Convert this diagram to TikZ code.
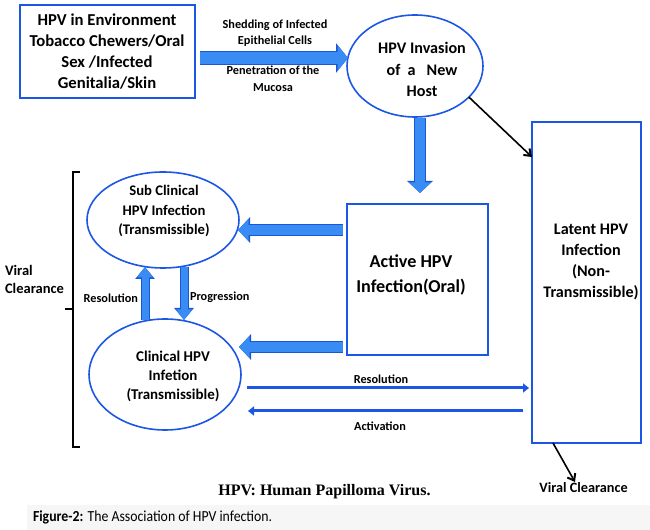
\documentclass[tikz,border=0pt]{standalone}
\usepackage{fontspec}
\usepackage{graphicx}
\setmainfont{Carlito}
\newfontfamily\capserif{Liberation Serif}
\usetikzlibrary{arrows.meta,shapes.geometric,calc}
\definecolor{bord}{RGB}{28,86,228}
\definecolor{arrfill}{RGB}{56,140,244}
\definecolor{arrdark}{RGB}{26,86,214}
\definecolor{capbg}{RGB}{246,246,246}
\begin{document}
\begin{tikzpicture}[x=0.75pt,y=-0.75pt,
  every node/.style={inner sep=0pt, outer sep=0pt},
  boxshape/.style={draw=bord, line width=1.6pt, rectangle},
  ellshape/.style={draw=bord, line width=1.2pt, ellipse},
  txt/.style={align=center, font=\bfseries},
  blk/.style={draw=arrfill, line width=#1*0.75pt,
     preaction={draw=arrdark, line width=(#1+2)*0.75pt,
       -{Triangle[width=(2*#1+5)*0.75pt,length=12*0.75pt]}},
     -{Triangle[width=(2*#1+1.5)*0.75pt,length=10.5*0.75pt]}},
  thinarr/.style={draw=bord, line width=3*0.75pt, -{Triangle[width=9*0.75pt,length=6*0.75pt]}},
  blackarr/.style={draw=black, line width=1.6*0.75pt, -{Straight Barb[width=9*0.75pt,length=6*0.75pt,line width=1.5pt]}},
  lbl/.style={font=\bfseries\fontsize{9.2pt}{12.5pt}\selectfont, align=center}
]
\useasboundingbox (0,0) rectangle (650,530);
\fill[capbg] (27,505) rectangle (650,530);

% shapes
\node (env) [boxshape, minimum width=175*0.75pt, minimum height=93*0.75pt] at (107.5,51.5) {};
\node (envt) [txt, font=\bfseries\fontsize{12.5pt}{15.6pt}\selectfont] at (107,51.5)
  {HPV in Environment\\Tobacco Chewers/Oral\\Sex /Infected\\Genitalia/Skin};

\node (inv) [ellshape, minimum width=136*0.75pt, minimum height=102*0.75pt] at (415,66) {};
\node (invt) [txt, font=\bfseries\fontsize{12.1pt}{16pt}\selectfont] at (422,69.5)
  {HPV Invasion\\of~~a~~~New\\Host};

\node (act) [boxshape, minimum width=141*0.75pt, minimum height=151*0.75pt] at (417.5,279.5) {};
\node (actt) [txt, font=\bfseries\fontsize{13.6pt}{18.8pt}\selectfont] at (411,275)
  {Active HPV\\Infection(Oral)};

\node (lat) [boxshape, minimum width=109*0.75pt, minimum height=321*0.75pt] at (586.5,282.5) {};
\node (latt) [txt, font=\bfseries\fontsize{12.1pt}{15.8pt}\selectfont] at (591,262)
  {Latent HPV\\Infection\\(Non-\\Transmissible)};

\node (sub) [ellshape, minimum width=152*0.75pt, minimum height=96*0.75pt] at (163,220) {};
\node (subt) [txt, font=\bfseries\fontsize{11pt}{14.3pt}\selectfont] at (164,211)
  {Sub Clinical\\HPV Infection\\(Transmissible)};

\node (clin) [ellshape, minimum width=152*0.75pt, minimum height=111*0.75pt] at (165,374.5) {};
\node (clint) [txt, font=\bfseries\fontsize{11.2pt}{14.3pt}\selectfont] at (173,376)
  {Clinical HPV\\Infetion\\(Transmissible)};

% block arrows
\draw[blk=12] ($(env.east)+(5,6.5)$) -- ($(inv.west)+(1,-8)$);
\node[lbl] (shed) at (275,33) {Shedding of Infected\\Epithelial Cells};
\node[lbl] (pen) at (273,78.5) {Penetration of the\\Mucosa};

\draw[blk=10] ($(inv.south)+(5,1)$) -- ($(act.north)+(2.5,-11)$);
\draw[blk=10] ($(act.west)+(-4,-49.5)$) -- ($(sub.east)+(-1,10)$);
\draw[blk=10] ($(act.west)+(-4,67.5)$) -- ($(clin.east)+(-2,-27.5)$);
\draw[blk=7] ($(clin.north)+(-20,1)$) -- ($(sub.south)+(-18,-1)$);
\draw[blk=7] ($(sub.south)+(21,-1)$) -- ($(clin.north)+(19,1)$);
\node[lbl, anchor=east] (res1) at (138,298) {Resolution};
\node[lbl, anchor=west] (prog) at (190,297) {Progression};

% thin arrows
\draw[thinarr] ($(clin.east)+(6,13.5)$) -- ($(lat.west)+(-3,105.5)$);
\draw[thinarr] ($(lat.west)+(-9,128.5)$) -- ($(clin.east)+(7,36.5)$);
\node[lbl] (res2) at (381,379) {Resolution};
\node[lbl] (actv) at (380,426) {Activation};

% black arrows
\draw[blackarr] (inv.-30) -- ($(lat.north west)+(0,35)$);
\node[txt, font=\bfseries\fontsize{10.7pt}{12pt}\selectfont] (vc2) at (583.5,487.5) {Viral Clearance};
\coordinate (vcend) at (575,482);
\draw[blackarr] ($(lat.south west)+(21,0)$) -- (vcend);

% brace
\draw[line width=1.6*0.75pt] (80,172) -- (73,172) -- (73,447) -- (80,447);
\draw[line width=1.6*0.75pt] (73,309) -- (65,309);
\node[anchor=west, align=left, font=\bfseries\fontsize{10.9pt}{13.5pt}\selectfont] (vc1) at (5,279) {Viral\\Clearance};

% captions
\node[font=\capserif\bfseries\fontsize{12pt}{13pt}\selectfont] (abbr) at (324.5,492) {HPV: Human Papilloma Virus.};
\node[anchor=west] (fig) at (33,517.5) {\scalebox{0.9}[1]{\fontsize{11.5pt}{13pt}\selectfont\textbf{Figure-2:} The Association of HPV infection.}};
\end{tikzpicture}
\end{document}
